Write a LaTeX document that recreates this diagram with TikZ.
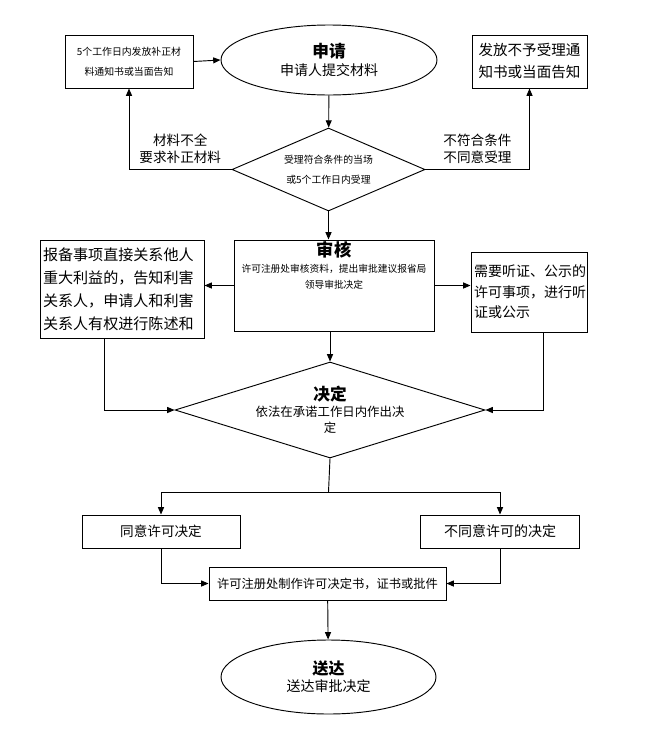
\documentclass[tikz,border=0pt]{standalone}
\usepackage{fontspec}
\setmainfont{Noto Sans CJK SC}
\usepackage{tikz}
\usetikzlibrary{arrows.meta,shapes.geometric}
\newdimen\pxu \pxu=0.75pt

\begin{document}
\begin{tikzpicture}[x=0.75pt,y=-0.75pt,line width=0.7pt,
  box/.style={draw,rectangle,inner sep=0pt,align=center},
  flow/.style={-{Triangle[length=5.5pt,width=4.5pt]}},
  tiny/.style={font=\fontsize{7.4}{15}\selectfont},
  plain/.style={font=\fontsize{10.5}{16}\selectfont},
  head/.style={font=\bfseries\fontsize{12.5}{15}\selectfont}]
\useasboundingbox (0,0) rectangle (655,750);

\node[box,tiny,minimum width=128\pxu,minimum height=53\pxu] (notice) at (129,61.5) {5个工作日内发放补正材\\料通知书或当面告知};
\node[draw,ellipse,inner sep=0pt,align=center,minimum width=216\pxu,minimum height=70\pxu] (apply) at (329,60) {{\bfseries\fontsize{12.5}{15}\selectfont 申请}\\[1pt]{\fontsize{10.5}{14}\selectfont 申请人提交材料}};
\node[box,font=\fontsize{10.9}{16.5}\selectfont,minimum width=115\pxu,minimum height=53\pxu] (refuse) at (529.5,61.5) {发放不予受理通\\知书或当面告知};
\node[draw,diamond,inner sep=0pt,aspect=2.3,align=center,tiny,minimum width=193\pxu,minimum height=83\pxu] (accept) at (328.5,169.5) {受理符合条件的当场\\或5个工作日内受理};

\node[box,minimum width=200\pxu,minimum height=91\pxu,
  label={[anchor=north,align=center,inner sep=1pt]north:{{\bfseries\fontsize{13}{14}\selectfont 审核}\\{\fontsize{7.3}{12}\selectfont 许可注册处审核资料，提出审批建议报省局}\\{\fontsize{7.3}{12}\selectfont 领导审批决定}}}] (review) at (334,285.5) {};
\node[box,align=left,text width=158\pxu,font=\fontsize{11.3}{17.25}\selectfont,minimum width=164\pxu,minimum height=98\pxu] (report) at (122,289) {报备事项直接关系他人\\重大利益的，告知利害\\关系人，申请人和利害\\关系人有权进行陈述和};
\node[box,align=left,text width=110\pxu,font=\fontsize{10.5}{15.4}\selectfont,minimum width=116\pxu,minimum height=80\pxu] (hearing) at (529,292) {需要听证、公示的\\许可事项，进行听\\证或公示};

\node[draw,diamond,inner sep=0pt,aspect=3.2,align=center,minimum width=310\pxu,minimum height=96\pxu] (decide) at (330,410) {{\bfseries\fontsize{12.5}{14}\selectfont 决定}\\{\fontsize{9.3}{13}\selectfont 依法在承诺工作日内作出决}\\{\fontsize{9.3}{13}\selectfont 定}};

\node[box,font=\fontsize{10.2}{14}\selectfont,minimum width=158\pxu,minimum height=33\pxu] (agree) at (161,531.5) {同意许可决定};
\node[box,font=\fontsize{10.5}{14}\selectfont,minimum width=159\pxu,minimum height=33\pxu] (deny) at (500,531.5) {不同意许可的决定};
\node[box,font=\fontsize{9.2}{14}\selectfont,minimum width=237\pxu,minimum height=33\pxu] (make) at (327.5,583.5) {许可注册处制作许可决定书，证书或批件};
\node[draw,ellipse,inner sep=0pt,align=center,minimum width=215\pxu,minimum height=74\pxu] (deliver) at (328.5,677) {{\bfseries\fontsize{12}{15}\selectfont 送达}\\[1pt]{\fontsize{10.5}{14}\selectfont 送达审批决定}};
\coordinate (fork) at (328.5,492);

% connectors
\draw[flow] (notice.east) -- (apply.west);
\draw[flow] (apply) -- (accept);
\draw[flow] (accept.west) -| (notice.south) node[pos=0.25,above=1pt,align=center,font=\fontsize{10.2}{12.5}\selectfont] {材料不全\\要求补正材料};
\draw[flow] (accept.east) -| (refuse.south) node[pos=0.25,above=1pt,align=center,font=\fontsize{10.2}{12.5}\selectfont] {不符合条件\\不同意受理};
\draw[flow] (accept.south) -- (accept.south |- review.north);
\draw[flow] (review.west) -- (review.west -| report.east);
\draw[flow] (review.east) -- (review.east -| hearing.west);
\draw[flow] (review.south -| decide.north) -- (decide.north);
\draw[flow] ([xshift=-18\pxu]report.south) |- (decide.west);
\draw[flow] ([xshift=14\pxu]hearing.south) |- (decide.east);
\draw (decide.south) -- (fork);
\draw[flow] (fork) -| (agree.north);
\draw[flow] (fork) -| (deny.north);
\draw[flow] (agree.south) |- (make.west);
\draw[flow] (deny.south) |- (make.east);
\draw[flow] (make) -- (deliver);
\end{tikzpicture}
\end{document}
